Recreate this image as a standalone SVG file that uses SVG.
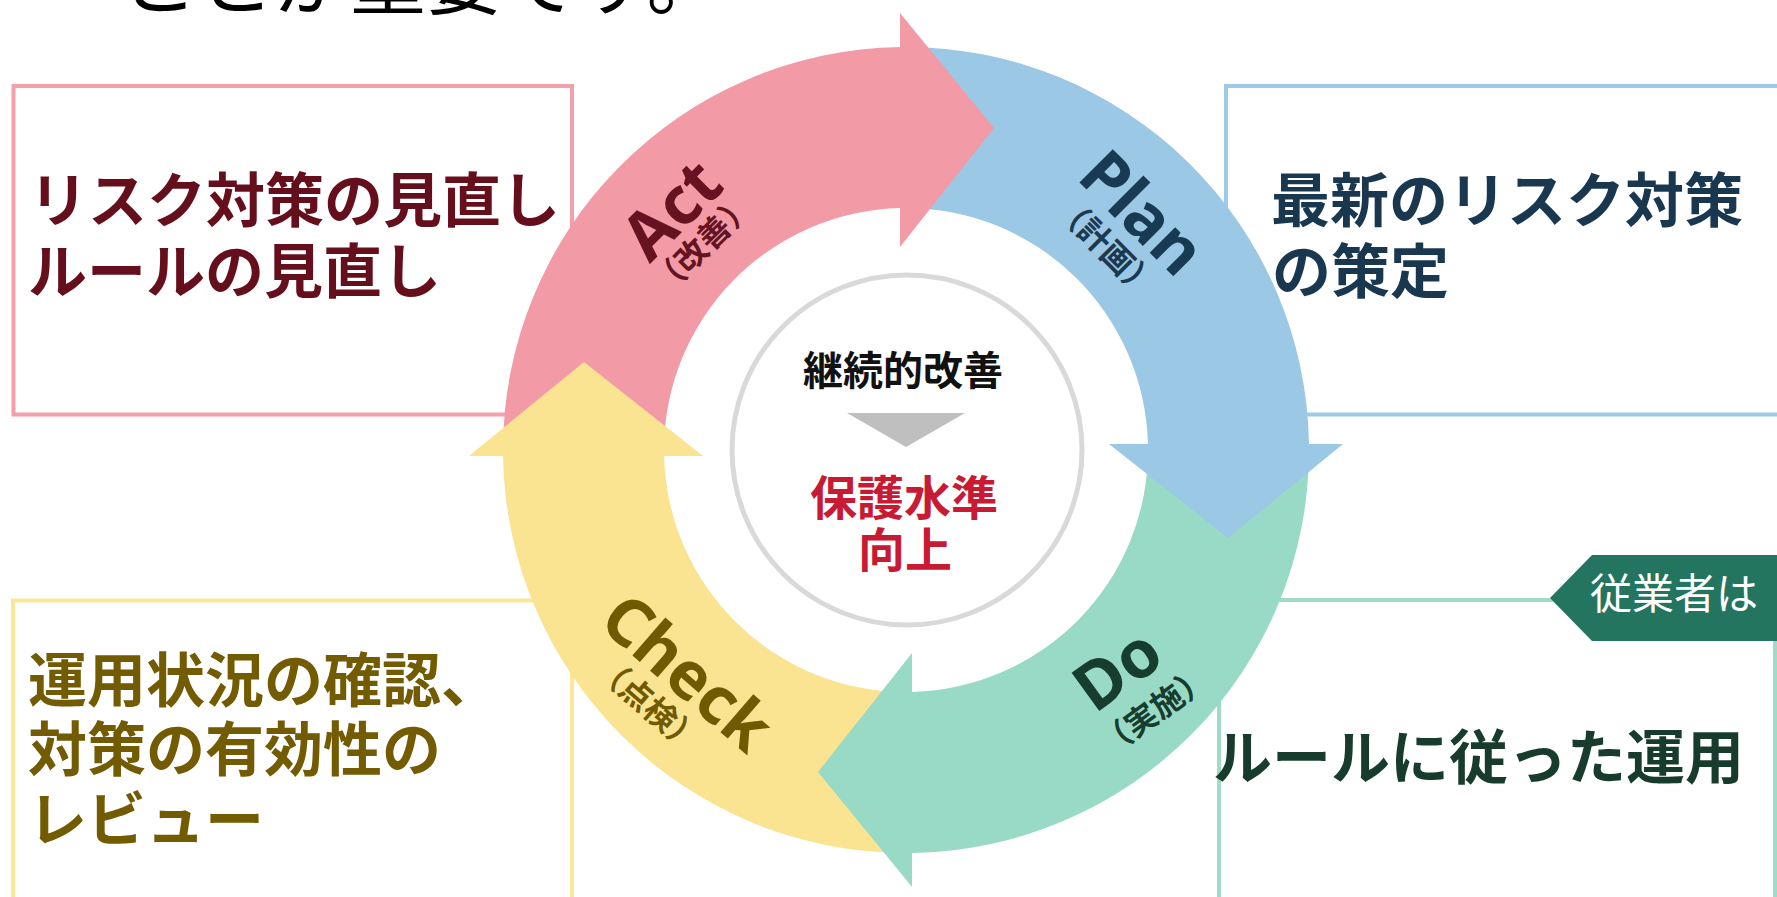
<svg xmlns="http://www.w3.org/2000/svg" width="1777" height="897" viewBox="0 0 1777 897">
<style>
.jp{font-family:"Noto Sans CJK JP","Noto Sans",sans-serif}
.bold{font-weight:700}
.box{fill:#ffffff;stroke-width:4}
.boxtxt{font-family:"Noto Sans CJK JP","Noto Sans",sans-serif;font-weight:700;font-size:59px}
.lbl{font-family:"Noto Sans","Noto Sans CJK JP",sans-serif;font-weight:700;font-size:66px;text-anchor:middle}
.sub{font-family:"Noto Sans CJK JP",sans-serif;font-weight:700;font-size:32px;text-anchor:middle}
.pink{fill:#f29aa5}.blue{fill:#9bc8e4}.green{fill:#99dac6}.yellow{fill:#fae391}
</style>
<rect width="1777" height="897" fill="#ffffff"/>
<g id="heading">
<text class="jp" x="122" y="9" font-size="76" fill="#000000">ことが重要です。</text>
</g>
<g id="node-act-box"><rect class="box" x="13.5" y="86" width="558.5" height="328.5" stroke="#f4a0ab"/></g>
<g id="node-plan-box"><rect class="box" x="1226" y="86" width="600" height="328.5" stroke="#9dcae6"/></g>
<g id="node-check-box"><rect class="box" x="13" y="600.5" width="559" height="400" stroke="#fde698"/></g>
<g id="node-do-box"><rect class="box" x="1219" y="600" width="556" height="400" stroke="#9fdcc8"/></g>
<g id="connectors">
<path class="pink" d="M503 450 A403 403 0 0 1 900 47.04 L900 208.07 A242 242 0 0 0 664 450 Z"/>
<path class="blue" d="M906 47 A403 403 0 0 1 1308.96 444 L1147.93 444 A242 242 0 0 0 906 208 Z"/>
<path class="green" d="M1309 450 A403 403 0 0 1 912 852.96 L912 691.93 A242 242 0 0 0 1148 450 Z"/>
<path class="yellow" d="M906 853 A403 403 0 0 1 503.04 456 L664.07 456 A242 242 0 0 0 906 692 Z"/>
<polygon class="pink" points="900,13 994,128 900,247"/>
<polygon class="blue" points="1343,444 1228,538 1109,444"/>
<polygon class="green" points="912,887 818,772 912,653"/>
<polygon class="yellow" points="469,456 584,362 703,456"/>
</g>
<g id="label-act" fill="#651320">
<text class="lbl" transform="translate(688,226) rotate(-45)">Act</text>
<text class="sub" transform="translate(711,252) rotate(-45)">（改善）</text>
</g>
<g id="label-plan" fill="#183a52">
<text class="lbl" transform="translate(1126,229) rotate(45)">Plan</text>
<text class="sub" transform="translate(1098,255) rotate(45)">（計画）</text>
</g>
<g id="label-do" fill="#173d2e">
<text class="lbl" transform="translate(1131,688) rotate(-36)">Do</text>
<text class="sub" transform="translate(1161,720) rotate(-36)">（実施）</text>
</g>
<g id="label-check" fill="#6f5a00">
<text class="lbl" transform="translate(672,690) rotate(41)">Check</text>
<text class="sub" transform="translate(641,713) rotate(41)">（点検）</text>
</g>
<g id="node-center">
<circle cx="907" cy="450" r="175" fill="#ffffff" stroke="#d9d9d9" stroke-width="5"/>
<text class="jp bold" x="903" y="385" font-size="40" text-anchor="middle" fill="#111111">継続的改善</text>
<polygon points="847,413 965,413 906,447" fill="#bfbfbf"/>
<text class="jp bold" x="904" y="515" font-size="47" text-anchor="middle" fill="#c81a32">保護水準</text>
<text class="jp bold" x="905" y="567" font-size="47" text-anchor="middle" fill="#c81a32">向上</text>
</g>
<g id="node-act-text" fill="#650e1c">
<text class="boxtxt" x="29" y="222">リスク対策の見直し</text>
<text class="boxtxt" x="28" y="293">ルールの見直し</text>
</g>
<g id="node-plan-text" fill="#19384f">
<text class="boxtxt" x="1271" y="222">最新のリスク対策</text>
<text class="boxtxt" x="1272" y="293">の策定</text>
</g>
<g id="node-check-text" fill="#725b00">
<text class="boxtxt" x="28" y="702">運用状況の確認、</text>
<text class="boxtxt" x="28" y="771">対策の有効性の</text>
<text class="boxtxt" x="28" y="841">レビュー</text>
</g>
<g id="node-do-text" fill="#173b2c">
<text class="boxtxt" x="1213" y="779">ルールに従った運用</text>
</g>
<g id="node-tag">
<polygon points="1550,598 1592,555 1790,555 1790,641 1592,641" fill="#247560"/>
<text class="jp" x="1590" y="609" font-size="42" fill="#ffffff">従業者は</text>
</g>
</svg>
